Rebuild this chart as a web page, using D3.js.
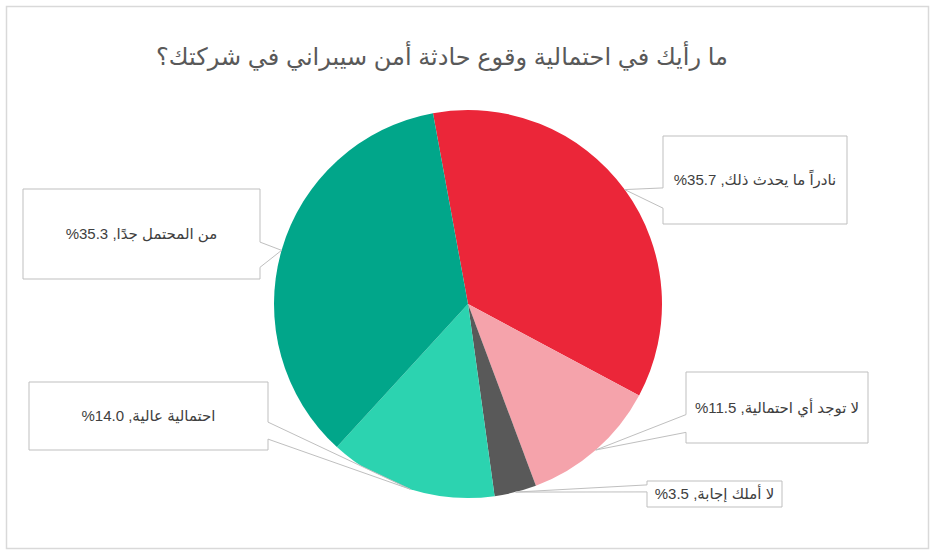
<!DOCTYPE html>
<html>
<head>
<meta charset="utf-8">
<script src="https://cdnjs.cloudflare.com/ajax/libs/d3/7.8.5/d3.min.js"></script>
<style>
  body { margin: 0; background: #fff; }
  svg { display: block; font-family: "Liberation Sans", Arial, "DejaVu Sans", sans-serif; }
</style>
</head>
<body>
<div id="chart"></div>
<script>
// chart data
var title = "ما رأيك في احتمالية وقوع حادثة أمن سيبراني في شركتك؟";
var categories = ["نادراً ما يحدث ذلك", "لا توجد أي احتمالية", "لا أملك إجابة", "احتمالية عالية", "من المحتمل جدًا"];
var values = [35.7, 11.5, 3.5, 14.0, 35.3];

// styles
var colors = ["#EB2639", "#F5A3AB", "#595959", "#2CD3B0", "#01A68A"];

// callout boxes: x, y, w, h, side of pointer, pointer base (fractions of height)
var boxes = [
  {x: 663, y: 136, w: 184, h: 88, side: "left",  f: [0.59, 0.82]},
  {x: 686, y: 372, w: 182, h: 71, side: "left",  f: [0.60, 0.85]},
  {x: 647, y: 481, w: 135, h: 26, side: "left",  f: [0.15, 0.42]},
  {x: 29,  y: 382, w: 239, h: 68, side: "right", f: [0.59, 0.84]},
  {x: 23,  y: 189, w: 237, h: 90, side: "right", f: [0.59, 0.87]}
];

var width = 936, height = 552;
var cx = 468, cy = 304, r = 194;

var svg = d3.select("#chart")
  .append("svg")
    .attr("width", width)
    .attr("height", height);

// outer border
svg.append("rect")
  .attr("x", 6.5).attr("y", 6.5)
  .attr("width", 922).attr("height", 542)
  .attr("fill", "#fff")
  .attr("stroke", "#D9D9D9")
  .attr("stroke-width", 1.5);

// title
svg.append("text")
  .attr("x", 442)
  .attr("y", 65)
  .attr("text-anchor", "middle")
  .attr("direction", "rtl")
  .style("font-size", "24px")
  .style("fill", "#595959")
  .text(title);

var start = -10.4 * Math.PI / 180;
var pie = d3.pie()
  .sort(null)
  .startAngle(start)
  .endAngle(start + 2 * Math.PI);

var slices = pie(values);

var arc = d3.arc().innerRadius(0).outerRadius(r);
var edge = d3.arc().innerRadius(r).outerRadius(r);

var g = svg.append("g")
  .attr("transform", "translate(" + cx + "," + cy + ")");

g.selectAll("path.slice")
  .data(slices)
  .enter()
  .append("path")
    .attr("class", "slice")
    .attr("d", arc)
    .attr("fill", function(d, i) { return colors[i]; });

// callouts
var callout = function(b, tip) {
  var y1 = b.y + b.h * b.f[0], y2 = b.y + b.h * b.f[1];
  if (b.side == "left") {
    return "M" + b.x + "," + b.y + "H" + (b.x + b.w) + "V" + (b.y + b.h) + "H" + b.x +
      "V" + y2 + "L" + tip[0] + "," + tip[1] + "L" + b.x + "," + y1 + "Z";
  }
  var xr = b.x + b.w;
  return "M" + b.x + "," + b.y + "H" + xr + "V" + y1 + "L" + tip[0] + "," + tip[1] +
    "L" + xr + "," + y2 + "V" + (b.y + b.h) + "H" + b.x + "Z";
};

var labels = svg.append("g");

slices.forEach(function(d, i) {
  var c = edge.centroid(d);
  var tip = [cx + c[0], cy + c[1]];
  var b = boxes[i];
  labels.append("path")
    .attr("d", callout(b, tip))
    .attr("fill", "#fff")
    .attr("stroke", "#BFBFBF")
    .attr("stroke-width", 1);
  labels.append("text")
    .attr("x", b.x + b.w / 2)
    .attr("y", b.y + b.h / 2)
    .attr("dy", "0.35em")
    .attr("text-anchor", "middle")
    .attr("direction", "rtl")
    .style("font-size", "15px")
    .style("fill", "#404040")
    .text(categories[i] + ", " + values[i].toFixed(1) + "%");
});
</script>
</body>
</html>
